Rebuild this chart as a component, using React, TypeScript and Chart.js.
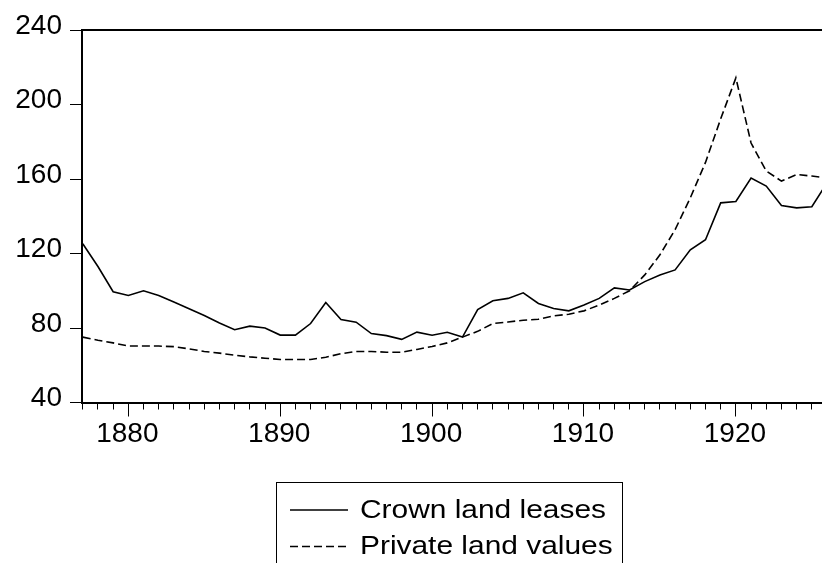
import React, { useEffect, useRef } from 'react';
import { Chart, registerables } from 'chart.js';

Chart.register(...registerables);

const years: number[] = [
  1877, 1878, 1879, 1880, 1881, 1882, 1883, 1884, 1885, 1886,
  1887, 1888, 1889, 1890, 1891, 1892, 1893, 1894, 1895, 1896,
  1897, 1898, 1899, 1900, 1901, 1902, 1903, 1904, 1905, 1906,
  1907, 1908, 1909, 1910, 1911, 1912, 1913, 1914, 1915, 1916,
  1917, 1918, 1919, 1920, 1921, 1922, 1923, 1924, 1925, 1926,
];

const crownLandLeases: number[] = [
  125.2, 113, 99.5, 97.5, 100, 97.5, 94, 90.3, 86.7, 82.7,
  79.1, 81, 80, 76.2, 76.2, 82.4, 93.7, 84.5, 83.1, 77,
  75.9, 73.9, 77.8, 76.1, 77.7, 75.1, 89.9, 94.6, 95.9, 98.9,
  93.2, 90.5, 89.2, 92.3, 95.9, 101.5, 100.4, 104.9, 108.5, 111.2,
  122, 127.4, 147.2, 147.9, 160.5, 156.2, 145.8, 144.5, 145.1, 158,
];

const privateLandValues: number[] = [
  75.1, 73.4, 72, 70.3, 70.3, 70.3, 70, 68.8, 67.4, 66.5,
  65.4, 64.5, 63.8, 63.1, 63.1, 63.1, 64.3, 66.2, 67.4, 67.4,
  67, 67, 68.5, 70.1, 72, 75.1, 78.2, 82.4, 83.2, 84.2,
  84.7, 86.5, 87.4, 89.2, 92.3, 95.9, 100, 108.5, 119.3, 132.8,
  149.9, 168.9, 192.3, 214.3, 179.3, 164.3, 158.9, 162.4, 161.6, 160.5,
];

const seriesNames: string[] = ['Crown land leases', 'Private land values'];
const yTickValues: number[] = [40, 80, 120, 160, 200, 240];
const majorYears: number[] = [1880, 1890, 1900, 1910, 1920];

const FONT_FAMILY = "Arial, 'Liberation Sans', sans-serif";

const decorPlugin = {
  id: 'decor',
  afterDraw(chart: any) {
    const ctx = chart.ctx as CanvasRenderingContext2D;
    const area = chart.chartArea;
    const xs = chart.scales.x;
    ctx.save();
    // longer major ticks on the year axis
    ctx.strokeStyle = '#000';
    ctx.lineWidth = 1;
    ctx.beginPath();
    for (const yr of majorYears) {
      const px = Math.round(xs.getPixelForValue(yr) - 0.5) + 0.5;
      ctx.moveTo(px, area.bottom);
      ctx.lineTo(px, area.bottom + 14);
    }
    ctx.stroke();

    // legend box
    ctx.lineWidth = 1;
    ctx.strokeRect(276.5, 482.5, 346, 140);
    // legend samples
    ctx.lineWidth = 1.5;
    ctx.beginPath();
    ctx.moveTo(290, 510);
    ctx.lineTo(348, 510);
    ctx.stroke();
    ctx.setLineDash([8, 4]);
    ctx.beginPath();
    ctx.moveTo(290, 546.5);
    ctx.lineTo(348, 546.5);
    ctx.stroke();
    ctx.setLineDash([]);
    ctx.fillStyle = '#000';
    ctx.font = `26px ${FONT_FAMILY}`;
    ctx.textBaseline = 'alphabetic';
    ctx.textAlign = 'left';
    const baselines = [517.5, 554];
    seriesNames.forEach((name, i) => {
      ctx.save();
      ctx.translate(360, baselines[i]);
      ctx.scale(1.15, 1);
      ctx.fillText(name, 0, 0);
      ctx.restore();
    });
    ctx.restore();
  },
};

export default function App() {
  const canvasRef = useRef<HTMLCanvasElement | null>(null);

  useEffect(() => {
    const canvas = canvasRef.current;
    if (!canvas) return;
    const chart = new Chart(canvas, {
      type: 'line',
      data: {
        datasets: [
          {
            label: seriesNames[0],
            data: years.map((yr, i) => ({ x: yr, y: crownLandLeases[i] })),
            borderColor: '#000',
            backgroundColor: '#000',
            borderWidth: 1.6,
            pointRadius: 0,
            tension: 0,
            fill: false,
          },
          {
            label: seriesNames[1],
            data: years.map((yr, i) => ({ x: yr, y: privateLandValues[i] })),
            borderColor: '#000',
            backgroundColor: '#000',
            borderWidth: 1.6,
            borderDash: [8, 4],
            pointRadius: 0,
            tension: 0,
            fill: false,
          },
        ],
      },
      options: {
        animation: false,
        responsive: false,
        devicePixelRatio: 1,
        layout: { padding: { left: 0, right: 0, top: 30, bottom: 110.5 } },
        plugins: {
          legend: { display: false },
          tooltip: { enabled: false },
          title: { display: false },
        },
        scales: {
          x: {
            type: 'linear',
            position: 'bottom',
            min: 1876.95,
            max: 1925.67,
            afterFit: (scale: any) => {
              scale.height = 50;
            },
            ticks: {
              stepSize: 1,
              includeBounds: false,
              autoSkip: false,
              maxRotation: 0,
              minRotation: 0,
              padding: 8,
              labelOffset: -1,
              color: '#000',
              font: { size: 28, family: FONT_FAMILY },
              callback: (value: any) => (Number(value) % 10 === 0 ? String(value) : ''),
            },
            grid: {
              drawOnChartArea: false,
              drawTicks: true,
              tickLength: 7,
              tickColor: '#000',
              tickWidth: 1,
            },
            border: { display: true, color: '#000', width: 2 },
          },
          xTop: {
            type: 'linear',
            position: 'top',
            min: 0,
            max: 1,
            afterFit: (scale: any) => {
              scale.height = 0;
            },
            ticks: { display: false },
            grid: { drawOnChartArea: false, drawTicks: false },
            border: { display: true, color: '#000', width: 2 },
          },
          y: {
            type: 'linear',
            position: 'left',
            min: yTickValues[0],
            max: yTickValues[yTickValues.length - 1],
            afterFit: (scale: any) => {
              scale.width = 82;
            },
            afterBuildTicks: (scale: any) => {
              scale.ticks = yTickValues.map((v) => ({ value: v }));
            },
            ticks: {
              stepSize: 40,
              padding: 8,
              labelOffset: -4,
              color: '#000',
              font: { size: 28, family: FONT_FAMILY },
            },
            grid: {
              drawOnChartArea: false,
              drawTicks: true,
              tickLength: 12,
              tickColor: '#000',
              tickWidth: 1,
            },
            border: { display: true, color: '#000', width: 2 },
          },
        },
      },
      plugins: [decorPlugin],
    } as any);
    return () => {
      chart.destroy();
    };
  }, []);

  return (
    <div
      style={{
        position: 'fixed',
        left: 0,
        top: 0,
        width: 822,
        height: 563,
        overflow: 'hidden',
        background: '#fff',
      }}
    >
      <canvas ref={canvasRef} width={822} height={563} style={{ display: 'block' }} />
    </div>
  );
}
